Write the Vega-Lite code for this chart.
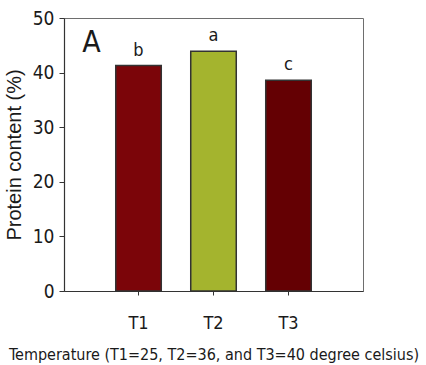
{
  "$schema": "https://vega.github.io/schema/vega-lite/v6.json",
  "autosize": "none",
  "width": 299,
  "height": 273,
  "padding": {"left": 64, "top": 18, "right": 63, "bottom": 74},
  "background": "white",
  "config": {
    "view": {"stroke": "#6e6e6e", "strokeWidth": 1},
    "font": "DejaVu Sans Condensed, serif"
  },
  "data": {
    "values": [
      {"treatment": "T1", "protein": 41.3, "group": "b"},
      {"treatment": "T2", "protein": 43.9, "group": "a"},
      {"treatment": "T3", "protein": 38.6, "group": "c"}
    ]
  },
  "encoding": {
    "x": {
      "field": "treatment",
      "type": "nominal",
      "scale": {"paddingInner": 0.393, "paddingOuter": 0.69},
      "axis": {
        "title": "Temperature (T1=25, T2=36, and T3=40 degree celsius)",
        "titleFont": "DejaVu Sans Condensed, serif",
        "titleFontSize": 16,
        "titleFontWeight": "normal",
        "titleColor": "#1a1a1a",
        "titlePadding": 14,
        "labelAngle": 0,
        "labelFont": "DejaVu Sans Condensed, serif",
        "labelFontSize": 18,
        "labelColor": "#1a1a1a",
        "labelPadding": 19,
        "tickSize": 4,
        "tickColor": "#333333",
        "domainColor": "#333333",
        "domainWidth": 1.2
      }
    },
    "y": {
      "field": "protein",
      "type": "quantitative",
      "scale": {"domain": [0, 50]},
      "axis": {
        "title": "Protein content (%)",
        "titleFont": "Liberation Sans",
        "titleFontSize": 20,
        "titleFontWeight": "normal",
        "titleColor": "#1a1a1a",
        "titlePadding": 8,
        "values": [0, 10, 20, 30, 40, 50],
        "grid": false,
        "labelFont": "DejaVu Sans Condensed, serif",
        "labelFontSize": 19,
        "labelColor": "#1a1a1a",
        "labelPadding": 5,
        "tickSize": 5,
        "tickColor": "#333333",
        "domainColor": "#333333",
        "domainWidth": 1.2
      }
    }
  },
  "layer": [
    {
      "mark": {"type": "bar", "stroke": "#333333", "strokeWidth": 1.5},
      "encoding": {
        "color": {
          "field": "treatment",
          "type": "nominal",
          "scale": {"domain": ["T1", "T2", "T3"], "range": ["#7b0509", "#a4b42e", "#640003"]},
          "legend": null
        }
      }
    },
    {
      "mark": {"type": "text", "baseline": "bottom", "dy": -6, "fontSize": 18, "font": "DejaVu Sans Condensed, serif", "color": "#1a1a1a"},
      "encoding": {"text": {"field": "group"}}
    },
    {
      "data": {"values": [{"panel": "A", "treatment": "T1", "protein": 45.5}]},
      "mark": {"type": "text", "baseline": "middle", "dx": -47, "fontSize": 30, "font": "DejaVu Sans Condensed, serif", "color": "#1a1a1a"},
      "encoding": {"text": {"field": "panel"}}
    }
  ]
}
